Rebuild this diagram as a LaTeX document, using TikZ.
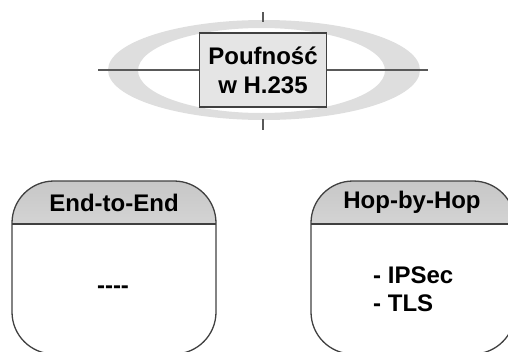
\documentclass[tikz,border=0pt]{standalone}
\usepackage{fontspec}
\setmainfont{Liberation Sans}
\begin{document}
\begin{tikzpicture}[x=1pt,y=-1pt,
  txt/.style={font=\bfseries\fontsize{24}{29}\selectfont, text=black, inner sep=0pt},
  boxline/.style={draw=black!75, line width=1.3pt},
  hdr/.style={top color=black!22, bottom color=black!2},
  thin/.style={draw=black!65, line width=1.2pt}]
\definecolor{ringgray}{gray}{0.87}
\definecolor{boxgray}{gray}{0.9}
\useasboundingbox (0,0) rectangle (508,351);
\clip (0,0) rectangle (508,351);
% ring
\fill[ringgray, even odd rule] (264,70) ellipse [x radius=156, y radius=50]
  (261.5,70.5) ellipse [x radius=123.5, y radius=42.5];
% centre box
\node[txt, boxline, fill=boxgray, minimum width=127pt, minimum height=74pt, align=center]
  (ctr) at (263,70) {Poufność\\w H.235};
\coordinate (hl) at (98,70);
\coordinate (hr) at (428,70);
\coordinate (t1) at (263,12);
\coordinate (t2) at (263,22);
\coordinate (b1) at (263,119);
\coordinate (b2) at (263,130);
\draw[thin] (hl) -- (ctr.west);
\draw[thin] (ctr.east) -- (hr);
\draw[thin] (t1) -- (t2);
\draw[thin] (b1) -- (b2);
% left box
\begin{scope}
  \clip (12,181) rectangle (216,224);
  \shade[hdr, rounded corners=42pt] (12,181) rectangle (216,354);
\end{scope}
\draw[boxline, rounded corners=42pt] (12,181) rectangle (216,354);
\coordinate (l1) at (12,224);
\coordinate (l2) at (216,224);
\draw[boxline] (l1) -- (l2);
\node[txt] (lhead) at (114,202.5) {End-to-End};
\node[txt] (lbody) at (113,290) {-{}-{}-{}-};
% right box
\begin{scope}
  \clip (311,181) rectangle (515,224);
  \shade[hdr, rounded corners=42pt] (311,181) rectangle (515,354);
\end{scope}
\draw[boxline, rounded corners=42pt] (311,181) rectangle (515,354);
\coordinate (r1) at (311,224);
\coordinate (r2) at (515,224);
\draw[boxline] (r1) -- (r2);
\node[txt] (rhead) at (412,202.5) {Hop-by-Hop};
\node[txt, anchor=west, align=left, font=\bfseries\fontsize{24}{28}\selectfont] (rbody) at (373,289) {- IPSec\\- TLS};
\end{tikzpicture}
\end{document}
